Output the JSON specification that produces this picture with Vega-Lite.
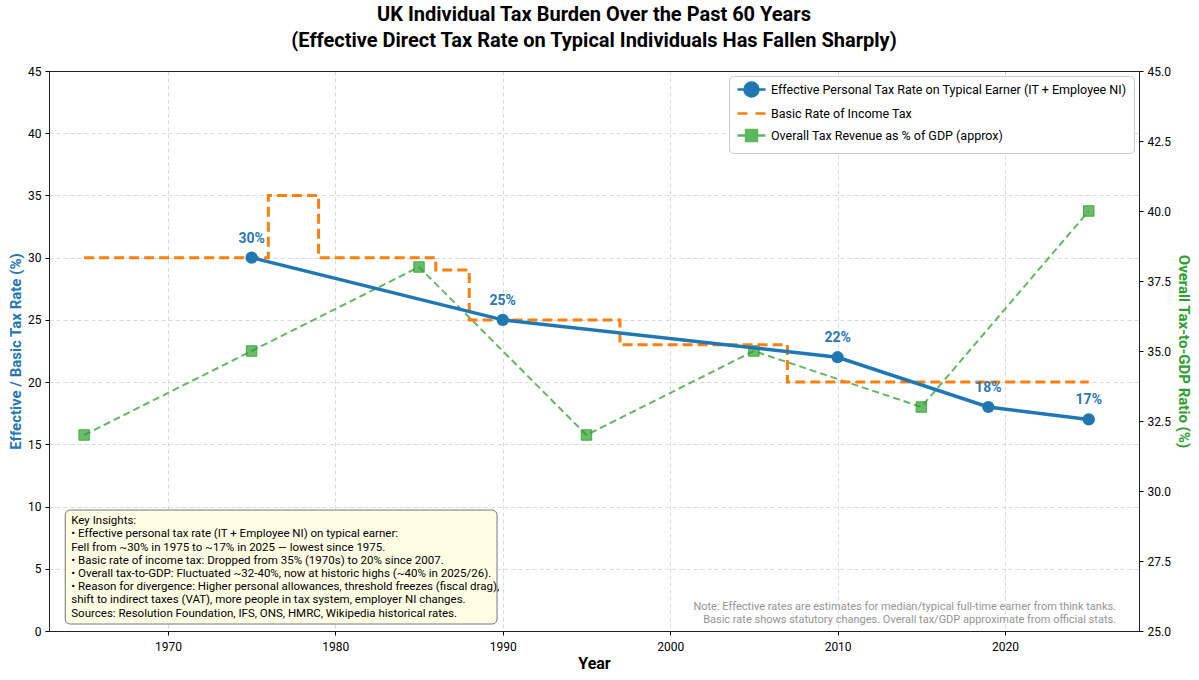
{
  "$schema": "https://vega.github.io/schema/vega-lite/v6.json",
  "width": 1090,
  "height": 560,
  "autosize": {"type": "none"},
  "padding": {"left": 49, "top": 71, "right": 60, "bottom": 49},
  "background": "white",
  "config": {
    "font": "Roboto",
    "view": {"stroke": "#222", "strokeWidth": 1},
    "axis": {"labelFont": "Roboto", "titleFont": "Roboto", "labelFontSize": 12, "labelColor": "#000", "tickColor": "#000", "domainColor": "#222", "gridColor": "#cfcfcf", "gridDash": [4, 3], "gridWidth": 0.8, "tickSize": 4},
    "legend": {"labelFont": "Roboto"}
  },
  "title": {
    "text": ["UK Individual Tax Burden Over the Past 60 Years", "(Effective Direct Tax Rate on Typical Individuals Has Fallen Sharply)"],
    "fontSize": 20,
    "fontWeight": "bold",
    "font": "Roboto",
    "lineHeight": 26,
    "anchor": "middle",
    "offset": 14,
    "color": "#000"
  },
  "datasets": {
    "effective": [
      {"year": 1975, "rate": 30, "series": "Effective Personal Tax Rate on Typical Earner (IT + Employee NI)"},
      {"year": 1990, "rate": 25, "series": "Effective Personal Tax Rate on Typical Earner (IT + Employee NI)"},
      {"year": 2010, "rate": 22, "series": "Effective Personal Tax Rate on Typical Earner (IT + Employee NI)"},
      {"year": 2019, "rate": 18, "series": "Effective Personal Tax Rate on Typical Earner (IT + Employee NI)"},
      {"year": 2025, "rate": 17, "series": "Effective Personal Tax Rate on Typical Earner (IT + Employee NI)"}
    ],
    "basic": [
      {"year": 1965, "rate": 30},
      {"year": 1976, "rate": 35},
      {"year": 1979, "rate": 30},
      {"year": 1986, "rate": 29},
      {"year": 1988, "rate": 25},
      {"year": 1997, "rate": 23},
      {"year": 2007, "rate": 20},
      {"year": 2025, "rate": 20}
    ],
    "gdp": [
      {"year": 1965, "ratio": 32},
      {"year": 1975, "ratio": 35},
      {"year": 1985, "ratio": 38},
      {"year": 1995, "ratio": 32},
      {"year": 2005, "ratio": 35},
      {"year": 2015, "ratio": 33},
      {"year": 2025, "ratio": 40}
    ],
    "single": [{"k": 1}]
  },
  "layer": [
    {
      "encoding": {
        "x": {"field": "year", "type": "quantitative", "scale": {"domain": [1962.9, 2028], "nice": false, "zero": false},
          "axis": {"orient": "top", "labels": false, "ticks": false, "grid": false, "domain": true, "title": null}},
        "y": {"field": "ratio", "type": "quantitative", "scale": {"domain": [25, 45], "nice": false, "zero": false},
          "axis": {"orient": "right", "values": [25, 27.5, 30, 32.5, 35, 37.5, 40, 42.5, 45], "format": ".1f", "grid": false, "title": "Overall Tax-to-GDP Ratio (%)", "titleColor": "#2ca02c", "titleFontSize": 15, "titleFontWeight": "bold", "titlePadding": 5, "labelPadding": 4}}
      },
      "layer": [
        {"data": {"name": "gdp"}, "mark": {"type": "line", "color": "#2ca02c", "strokeWidth": 2, "strokeDash": [7, 4], "opacity": 0.75}},
        {"data": {"name": "gdp"}, "mark": {"type": "point", "shape": "square", "filled": true, "size": 110, "color": "#2ca02c", "fillOpacity": 0.7, "stroke": "#2ca02c", "strokeOpacity": 0.8, "strokeWidth": 1}}
      ]
    },
    {
      "layer": [
        {"data": {"name": "basic"}, "mark": {"type": "line", "interpolate": "step-after", "color": "#ff7f0e", "strokeWidth": 3, "strokeDash": [10, 5]},
          "encoding": {
            "x": {"field": "year", "type": "quantitative", "scale": {"domain": [1962.9, 2028], "nice": false, "zero": false},
              "axis": {"orient": "bottom", "values": [1970, 1980, 1990, 2000, 2010, 2020], "format": "d", "title": "Year", "titleFontSize": 16, "titleFontWeight": "bold", "titleColor": "#000", "labelPadding": 6, "titlePadding": 3, "grid": true}},
            "y": {"field": "rate", "type": "quantitative", "scale": {"domain": [0, 45], "nice": false},
              "axis": {"orient": "left", "values": [0, 5, 10, 15, 20, 25, 30, 35, 40, 45], "grid": true, "title": "Effective / Basic Tax Rate (%)", "titleColor": "#1f77b4", "titleFontSize": 15, "titleFontWeight": "bold", "titlePadding": 4, "labelPadding": 4}}
          }},
        {"data": {"name": "effective"}, "mark": {"type": "line", "color": "#1f77b4", "strokeWidth": 3.5},
          "encoding": {"x": {"field": "year", "type": "quantitative", "scale": {"domain": [1962.9, 2028], "nice": false, "zero": false}}, "y": {"field": "rate", "type": "quantitative", "scale": {"domain": [0, 45], "nice": false}}}},
        {"data": {"name": "effective"}, "mark": {"type": "point", "shape": "circle", "filled": true, "size": 150, "color": "#1f77b4", "opacity": 1},
          "encoding": {"x": {"field": "year", "type": "quantitative", "scale": {"domain": [1962.9, 2028], "nice": false, "zero": false}}, "y": {"field": "rate", "type": "quantitative", "scale": {"domain": [0, 45], "nice": false}}}},
        {"data": {"name": "effective"}, "transform": [{"calculate": "datum.rate + '%'", "as": "label"}],
          "mark": {"type": "text", "dy": -19, "fontSize": 14, "fontWeight": "bold", "color": "#2a78b5", "font": "Roboto"},
          "encoding": {"x": {"field": "year", "type": "quantitative", "scale": {"domain": [1962.9, 2028], "nice": false, "zero": false}}, "y": {"field": "rate", "type": "quantitative", "scale": {"domain": [0, 45], "nice": false}}, "text": {"field": "label", "type": "nominal"}}},
        {"data": {"name": "effective"},
          "mark": {"type": "point", "filled": true, "opacity": 0},
          "encoding": {
            "x": {"field": "year", "type": "quantitative", "scale": {"domain": [1962.9, 2028], "nice": false, "zero": false}}, "y": {"field": "rate", "type": "quantitative", "scale": {"domain": [0, 45], "nice": false}},
            "color": {"field": "series", "type": "nominal",
              "scale": {"domain": ["Effective Personal Tax Rate on Typical Earner (IT + Employee NI)", "Basic Rate of Income Tax", "Overall Tax Revenue as % of GDP (approx)"], "range": ["#1f77b4", "#ff7f0e", "#5cb85c"]},
              "legend": {"title": null, "orient": "top-right", "offset": 5, "padding": 7, "fillColor": "white", "strokeColor": "#cccccc", "cornerRadius": 4, "labelFontSize": 12.5, "labelLimit": 600, "labelColor": "#000", "labelOffset": 22, "rowPadding": 5, "symbolSize": 100, "symbolOpacity": 1, "symbolStrokeWidth": 2.5,
                "encode": {"symbols": {"update": {"fill": {"scale": "color", "field": "value"}, "stroke": {"scale": "color", "field": "value"}, "opacity": {"value": 1}, "fillOpacity": {"value": 1}, "strokeOpacity": {"value": 1}}}}}},
            "shape": {"field": "series", "type": "nominal",
              "scale": {"domain": ["Effective Personal Tax Rate on Typical Earner (IT + Employee NI)", "Basic Rate of Income Tax", "Overall Tax Revenue as % of GDP (approx)"],
                "range": ["M-1,0L4.6,0M3.2,0A1.4,1.4,0,1,1,0.4,0A1.4,1.4,0,1,1,3.2,0Z", "M-1,0L1,0M2.6,0L4.6,0", "M-1,0L0.7,0M2.9,0L4.6,0M0.7,-1.1H2.9V1.1H0.7Z"]},
              "legend": {"title": null}}
          }},
        {"data": {"name": "single"},
          "mark": {"type": "rect", "fill": "#fffde0", "fillOpacity": 0.9, "stroke": "#777", "strokeWidth": 1, "cornerRadius": 5},
          "encoding": {"x": {"datum": 1963.87, "type": "quantitative", "scale": {"domain": [1962.9, 2028], "nice": false, "zero": false}}, "x2": {"datum": 1989.66}, "y": {"datum": 9.72, "type": "quantitative", "scale": {"domain": [0, 45], "nice": false}}, "y2": {"datum": 0.56}}},
        {"data": {"name": "single"},
          "mark": {"type": "text", "align": "left", "baseline": "top", "fontSize": 11.5, "lineHeight": 13.2, "color": "#000", "font": "Roboto", "lineBreak": "\n",
            "text": "Key Insights:\n• Effective personal tax rate (IT + Employee NI) on typical earner:\n\u00a0\u00a0Fell from ~30% in 1975 to ~17% in 2025 — lowest since 1975.\n• Basic rate of income tax: Dropped from 35% (1970s) to 20% since 2007.\n• Overall tax-to-GDP: Fluctuated ~32-40%, now at historic highs (~40% in 2025/26).\n• Reason for divergence: Higher personal allowances, threshold freezes (fiscal drag),\n\u00a0\u00a0shift to indirect taxes (VAT), more people in tax system, employer NI changes.\nSources: Resolution Foundation, IFS, ONS, HMRC, Wikipedia historical rates."},
          "encoding": {"x": {"datum": 1964.23, "type": "quantitative", "scale": {"domain": [1962.9, 2028], "nice": false, "zero": false}}, "y": {"datum": 9.3, "type": "quantitative", "scale": {"domain": [0, 45], "nice": false}}}},
        {"data": {"name": "single"},
          "mark": {"type": "text", "align": "right", "baseline": "top", "fontSize": 11, "lineHeight": 13, "color": "#949494", "font": "Roboto", "lineBreak": "\n",
            "text": "Note: Effective rates are estimates for median/typical full-time earner from think tanks.\nBasic rate shows statutory changes. Overall tax/GDP approximate from official stats."},
          "encoding": {"x": {"datum": 2026.63, "type": "quantitative", "scale": {"domain": [1962.9, 2028], "nice": false, "zero": false}}, "y": {"datum": 2.45, "type": "quantitative", "scale": {"domain": [0, 45], "nice": false}}}}
      ]
    }
  ],
  "resolve": {"scale": {"y": "independent"}, "axis": {"x": "independent"}}
}
